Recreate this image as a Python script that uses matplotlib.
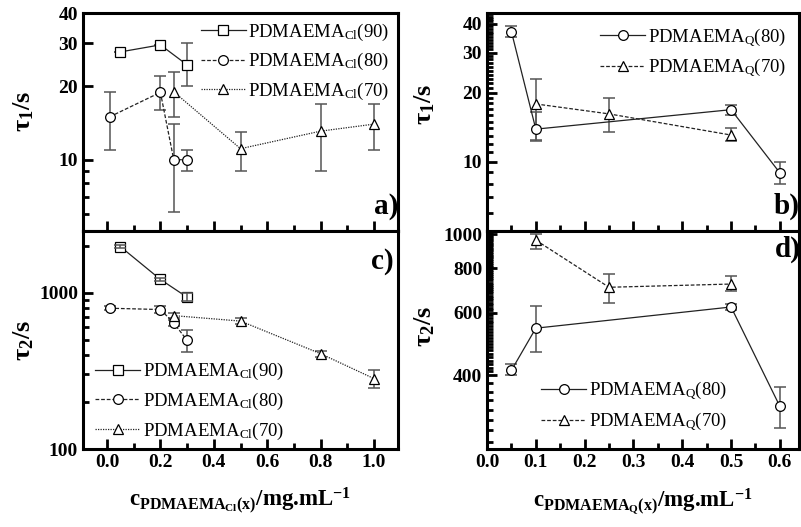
import numpy as np
import matplotlib
matplotlib.use('Agg')
import matplotlib.pyplot as plt
from matplotlib.ticker import FixedLocator, NullFormatter, FormatStrFormatter, MultipleLocator

plt.rcParams['font.family'] = ['Liberation Serif', 'DejaVu Serif']
plt.rcParams['mathtext.fontset'] = 'custom'
plt.rcParams['mathtext.rm'] = 'Liberation Serif'
plt.rcParams['mathtext.it'] = 'Liberation Serif:italic'
plt.rcParams['mathtext.bf'] = 'Liberation Serif:bold'
plt.rcParams['mathtext.default'] = 'regular'

# ---- data: left panels (PDMAEMA_Cl) ----
cl90_x = [0.05, 0.2, 0.3]
cl90_t1 = [27.7, 29.6, 24.5]
cl90_t1_lo = [27.7, 29.6, 20.0]
cl90_t1_hi = [27.7, 29.6, 30.0]
cl90_t2 = [1970, 1215, 935]
cl90_t2_lo = [1920, 1180, 880]
cl90_t2_hi = [2020, 1250, 990]

cl80_x = [0.01, 0.2, 0.25, 0.3]
cl80_t1 = [15.0, 18.9, 10.0, 10.0]
cl80_t1_lo = [11.0, 16.0, 6.1, 9.0]
cl80_t1_hi = [19.0, 22.0, 14.0, 11.0]
cl80_t2 = [795, 780, 640, 495]
cl80_t2_lo = [770, 740, 610, 417]
cl80_t2_hi = [820, 820, 670, 580]

cl70_x = [0.25, 0.5, 0.8, 1.0]
cl70_t1 = [19.0, 11.1, 13.1, 14.0]
cl70_t1_lo = [15.0, 9.0, 9.0, 11.0]
cl70_t1_hi = [23.0, 13.0, 17.0, 17.0]
cl70_t2 = [713, 658, 407, 282]
cl70_t2_lo = [690, 630, 390, 245]
cl70_t2_hi = [740, 690, 425, 320]

# ---- data: right panels (PDMAEMA_Q) ----
q80_x = [0.05, 0.1, 0.5, 0.6]
q80_t1 = [37.0, 13.9, 16.9, 8.96]
q80_t1_lo = [35.0, 12.3, 16.0, 8.0]
q80_t1_hi = [39.0, 16.5, 17.8, 10.0]
q80_t2 = [413, 543, 623, 327]
q80_t2_lo = [400, 465, 610, 285]
q80_t2_hi = [430, 625, 636, 370]

q70_x = [0.1, 0.25, 0.5]
q70_t1 = [17.9, 16.2, 13.1]
q70_t1_lo = [12.5, 13.5, 12.3]
q70_t1_hi = [23.0, 19.0, 14.0]
q70_t2 = [961, 708, 723]
q70_t2_lo = [910, 640, 690]
q70_t2_hi = [1000, 770, 760]


def series(ax, x, y, lo, hi, marker, ls, label, err_top=False):
    y = np.array(y)
    err = [y - np.array(lo), np.array(hi) - y]
    ax.errorbar(x, y, yerr=err, fmt='none', ecolor='#555555', elinewidth=1.1,
                capsize=4, capthick=1.1, zorder=4 if err_top else 2)
    ms = 7.5 if marker == '^' else 7
    ax.plot(x, y, color='#222222', ls=ls, lw=0.9, marker=marker, ms=ms,
            mfc='white', mec='black', mew=0.9, label=label, zorder=3)


def style(ax):
    for s in ax.spines.values():
        s.set_linewidth(2.2)
    ax.tick_params(which='both', direction='in', width=2, labelsize=14,
                   top=False, right=False)
    ax.tick_params(which='major', length=7)
    ax.tick_params(which='minor', length=4)
    for lab in ax.get_xticklabels() + ax.get_yticklabels():
        lab.set_fontweight('bold')


fig = plt.figure(figsize=(8.01, 5.27), dpi=100)
ax_a = fig.add_axes([0.1036, 0.5617, 0.3933, 0.4136])
ax_c = fig.add_axes([0.1036, 0.148, 0.3933, 0.4137])
ax_b = fig.add_axes([0.608, 0.5617, 0.390, 0.4136])
ax_d = fig.add_axes([0.608, 0.148, 0.390, 0.4137])

cl = 'PDMAEMA$_{Cl}$'
qq = 'PDMAEMA$_{Q}$'

# panel a
series(ax_a, cl90_x, cl90_t1, cl90_t1_lo, cl90_t1_hi, 's', '-', cl + '(90)')
series(ax_a, cl80_x, cl80_t1, cl80_t1_lo, cl80_t1_hi, 'o', (0, (3, 1.5)), cl + '(80)')
series(ax_a, cl70_x, cl70_t1, cl70_t1_lo, cl70_t1_hi, '^', (0, (1, 1)), cl + '(70)')
# panel c
series(ax_c, cl90_x, cl90_t2, cl90_t2_lo, cl90_t2_hi, 's', '-', cl + '(90)', err_top=True)
series(ax_c, cl80_x, cl80_t2, cl80_t2_lo, cl80_t2_hi, 'o', (0, (3, 1.5)), cl + '(80)')
series(ax_c, cl70_x, cl70_t2, cl70_t2_lo, cl70_t2_hi, '^', (0, (1, 1)), cl + '(70)')
# panel b
series(ax_b, q80_x, q80_t1, q80_t1_lo, q80_t1_hi, 'o', '-', qq + '(80)')
series(ax_b, q70_x, q70_t1, q70_t1_lo, q70_t1_hi, '^', (0, (3, 1.5)), qq + '(70)')
# panel d
series(ax_d, q80_x, q80_t2, q80_t2_lo, q80_t2_hi, 'o', '-', qq + '(80)')
series(ax_d, q70_x, q70_t2, q70_t2_lo, q70_t2_hi, '^', (0, (3, 1.5)), qq + '(70)')

for ax in (ax_a, ax_b, ax_c, ax_d):
    ax.set_yscale('log')

# x axes
for ax in (ax_a, ax_c):
    ax.set_xlim(-0.09, 1.09)
    ax.xaxis.set_major_locator(MultipleLocator(0.2))
    ax.xaxis.set_minor_locator(MultipleLocator(0.1))
    ax.xaxis.set_major_formatter(FormatStrFormatter('%.1f'))
for ax in (ax_b, ax_d):
    ax.set_xlim(0.0, 0.64)
    ax.xaxis.set_major_locator(MultipleLocator(0.1))
    ax.xaxis.set_minor_locator(MultipleLocator(0.05))
    ax.xaxis.set_major_formatter(FormatStrFormatter('%.1f'))
ax_a.tick_params(axis='x', labelbottom=False)
ax_b.tick_params(axis='x', labelbottom=False)

# y axes
ax_a.set_ylim(5.1, 40)
ax_a.yaxis.set_major_locator(FixedLocator([10, 20, 30, 40]))
ax_a.yaxis.set_minor_locator(FixedLocator([6, 7, 8, 9]))
ax_a.yaxis.set_major_formatter(FormatStrFormatter('%d'))
ax_a.yaxis.set_minor_formatter(NullFormatter())

ax_c.set_ylim(100, 2480)
ax_c.yaxis.set_major_locator(FixedLocator([100, 1000]))
ax_c.yaxis.set_minor_locator(FixedLocator([200, 300, 400, 500, 600, 700, 800, 900, 2000]))
ax_c.yaxis.set_major_formatter(FormatStrFormatter('%d'))
ax_c.yaxis.set_minor_formatter(NullFormatter())

ax_b.set_ylim(5.0, 44.6)
ax_b.yaxis.set_major_locator(FixedLocator([10, 20, 30, 40]))
ax_b.yaxis.set_minor_locator(FixedLocator(list(range(5, 45))))
ax_b.yaxis.set_major_formatter(FormatStrFormatter('%d'))
ax_b.yaxis.set_minor_formatter(NullFormatter())

ax_d.set_ylim(248, 1020)
ax_d.yaxis.set_major_locator(FixedLocator([400, 600, 800, 1000]))
ax_d.yaxis.set_minor_locator(FixedLocator(list(range(260, 400, 20)) + list(range(410, 1020, 10))))
ax_d.yaxis.set_major_formatter(FormatStrFormatter('%d'))
ax_d.yaxis.set_minor_formatter(NullFormatter())

for ax in (ax_a, ax_b, ax_c, ax_d):
    style(ax)

ylab_kw = dict(fontsize=19, fontweight='bold')
ax_a.set_ylabel('τ$_{1}$/s', **ylab_kw)
ax_c.set_ylabel('τ$_{2}$/s', **ylab_kw)
ax_b.set_ylabel('τ$_{1}$/s', **ylab_kw)
ax_d.set_ylabel('τ$_{2}$/s', **ylab_kw)
ax_a.yaxis.set_label_coords(-0.15, 0.55)
ax_c.yaxis.set_label_coords(-0.15, 0.5)
ax_b.yaxis.set_label_coords(-0.16, 0.58)
ax_d.yaxis.set_label_coords(-0.16, 0.56)

xlab_kw = dict(fontsize=16.5, fontweight='bold')
ax_c.set_xlabel('c$_{PDMAEMA_{Cl}(x)}$/mg.mL$^{-1}$', labelpad=11, **xlab_kw)
ax_d.set_xlabel('c$_{PDMAEMA_{Q}(x)}$/mg.mL$^{-1}$', labelpad=11, **xlab_kw)

leg_kw = dict(frameon=False, fontsize=13.5, handlelength=2.4, handletextpad=0.15,
              labelspacing=0.45)
ax_a.legend(loc='upper right', borderaxespad=0.05, **leg_kw)
ax_b.legend(loc='upper right', borderaxespad=0.3, **leg_kw)
ax_c.legend(loc='lower left', bbox_to_anchor=(0.015, 0.0), borderaxespad=0.0, **leg_kw)
ax_d.legend(loc='lower left', bbox_to_anchor=(0.15, 0.04), borderaxespad=0.0, **leg_kw)

pan_kw = dict(fontsize=21, fontweight='bold', ha='right')
ax_a.text(1.0, 0.05, 'a)', transform=ax_a.transAxes, va='bottom', **pan_kw)
ax_b.text(1.0, 0.05, 'b)', transform=ax_b.transAxes, va='bottom', **pan_kw)
ax_c.text(0.985, 0.92, 'c)', transform=ax_c.transAxes, va='top', **pan_kw)
ax_d.text(1.005, 0.98, 'd)', transform=ax_d.transAxes, va='top', **pan_kw)

fig.savefig('out.png', dpi=100)
